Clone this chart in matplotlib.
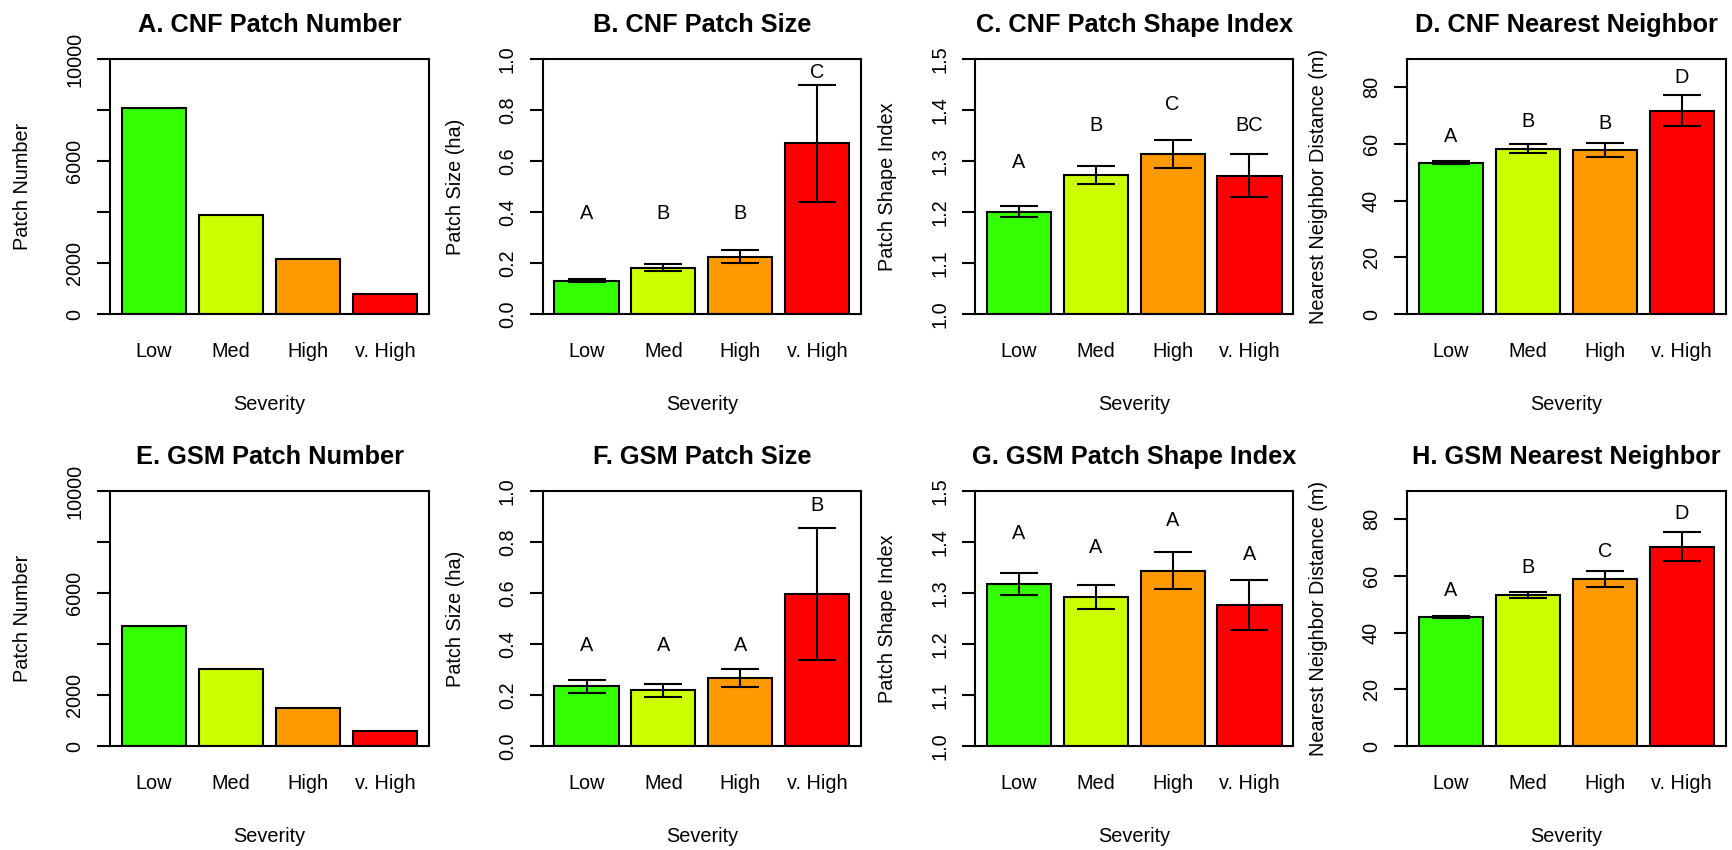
import matplotlib
matplotlib.use("Agg")
import matplotlib.pyplot as plt
import numpy as np

plt.rcParams["font.family"] = ["Liberation Sans", "DejaVu Sans"]

severity = ["Low", "Med", "High", "v. High"]
bar_colors = ["#33FF00", "#CCFF00", "#FF9900", "#FF0000"]

# patch counts (no error bars)
cnf_patch_number = [8090, 3890, 2170, 770]
gsm_patch_number = [4710, 3010, 1480, 575]

# mean patch size (ha) with standard errors and group letters
cnf_patch_size = [0.131, 0.182, 0.225, 0.669]
cnf_patch_size_se = [0.007, 0.015, 0.026, 0.228]
cnf_patch_size_letters = ["A", "B", "B", "C"]
cnf_patch_size_letter_y = [0.394, 0.394, 0.394, 0.946]

gsm_patch_size = [0.235, 0.218, 0.265, 0.595]
gsm_patch_size_se = [0.0255, 0.0255, 0.0355, 0.2585]
gsm_patch_size_letters = ["A", "A", "A", "B"]
gsm_patch_size_letter_y = [0.396, 0.396, 0.396, 0.944]

# patch shape index
cnf_shape = [1.2005, 1.2723, 1.314, 1.271]
cnf_shape_se = [0.0105, 0.018, 0.0275, 0.042]
cnf_shape_letters = ["A", "B", "C", "BC"]
cnf_shape_letter_y = [1.297, 1.370, 1.411, 1.369]

gsm_shape = [1.318, 1.292, 1.344, 1.277]
gsm_shape_se = [0.022, 0.024, 0.037, 0.049]
gsm_shape_letters = ["A", "A", "A", "A"]
gsm_shape_letter_y = [1.416, 1.389, 1.442, 1.375]

# nearest neighbor distance (m)
cnf_nn = [53.35, 58.3, 57.9, 71.8]
cnf_nn_se = [0.55, 1.6, 2.55, 5.4]
cnf_nn_letters = ["A", "B", "B", "D"]
cnf_nn_letter_y = [62.7, 68.1, 67.4, 83.4]

gsm_nn = [45.45, 53.4, 58.9, 70.4]
gsm_nn_se = [0.35, 1.05, 2.7, 5.25]
gsm_nn_letters = ["A", "B", "C", "D"]
gsm_nn_letter_y = [54.8, 62.9, 68.6, 81.9]

number_ticks = [0, 2000, 4000, 6000, 8000, 10000]
number_tick_labels = ["0", "2000", "", "6000", "", "10000"]
size_ticks = [0.0, 0.2, 0.4, 0.6, 0.8, 1.0]
size_tick_labels = ["0.0", "0.2", "0.4", "0.6", "0.8", "1.0"]
shape_ticks = [1.0, 1.1, 1.2, 1.3, 1.4, 1.5]
shape_tick_labels = ["1.0", "1.1", "1.2", "1.3", "1.4", "1.5"]
nn_ticks = [0, 20, 40, 60, 80]
nn_tick_labels = ["0", "20", "40", "60", "80"]

W, H = 1732, 850
col_left = [110, 542.7, 975, 1406.7]
col_right = [429, 861, 1293.3, 1725.7]
row_top = [59, 491]
row_bottom = [314, 746]

bar_x = np.array([0.7, 1.9, 3.1, 4.3])
LW = 1.5
TEXT = 14.3


def draw_panel(fig, row, col, title, ylabel, values, ylim, ticks, tick_labels,
               se=None, letters=None, letter_y=None):
    left = col_left[col] / W
    bottom = 1 - row_bottom[row] / H
    width = (col_right[col] - col_left[col]) / W
    height = (row_bottom[row] - row_top[row]) / H
    ax = fig.add_axes([left, bottom, width, height])

    base = ylim[0]
    heights = np.array(values) - base
    ax.bar(bar_x, heights, width=1.0, bottom=base, color=bar_colors,
           edgecolor="black", linewidth=LW, zorder=2)
    if se is not None:
        ax.errorbar(bar_x, values, yerr=se, fmt="none", ecolor="black",
                    elinewidth=LW, capsize=13.9, capthick=LW, zorder=3)
    if letters is not None:
        for x, y, s in zip(bar_x, letter_y, letters):
            ax.text(x, y, s, ha="center", va="center", fontsize=TEXT)

    ax.set_xlim(0.016, 4.984)
    ax.set_ylim(*ylim)
    ax.set_xticks(bar_x)
    ax.set_xticklabels(severity, fontsize=TEXT)
    ax.tick_params(axis="x", length=0, pad=20)
    ax.set_yticks(ticks)
    ax.set_yticklabels(tick_labels, fontsize=TEXT, rotation=90, va="center")
    ax.tick_params(axis="y", length=9.1, width=LW, pad=9.5)
    for spine in ax.spines.values():
        spine.set_linewidth(LW)

    ax.set_title(title, fontsize=18.3, fontweight="bold", pad=19.6)
    ax.set_xlabel("Severity", fontsize=TEXT, va="center")
    ax.xaxis.set_label_coords(0.5, -0.353)
    ax.set_ylabel(ylabel, fontsize=TEXT, va="center")
    ax.yaxis.set_label_coords(-0.275, 0.5)
    return ax


fig = plt.figure(figsize=(W / 100, H / 100), dpi=100)

draw_panel(fig, 0, 0, "A. CNF Patch Number", "Patch Number", cnf_patch_number,
           (0, 10000), number_ticks, number_tick_labels)
draw_panel(fig, 0, 1, "B. CNF Patch Size", "Patch Size (ha)", cnf_patch_size,
           (0, 1), size_ticks, size_tick_labels,
           cnf_patch_size_se, cnf_patch_size_letters, cnf_patch_size_letter_y)
draw_panel(fig, 0, 2, "C. CNF Patch Shape Index", "Patch Shape Index", cnf_shape,
           (1.0, 1.5), shape_ticks, shape_tick_labels,
           cnf_shape_se, cnf_shape_letters, cnf_shape_letter_y)
draw_panel(fig, 0, 3, "D. CNF Nearest Neighbor", "Nearest Neighbor Distance (m)",
           cnf_nn, (0, 90), nn_ticks, nn_tick_labels,
           cnf_nn_se, cnf_nn_letters, cnf_nn_letter_y)

draw_panel(fig, 1, 0, "E. GSM Patch Number", "Patch Number", gsm_patch_number,
           (0, 10000), number_ticks, number_tick_labels)
draw_panel(fig, 1, 1, "F. GSM Patch Size", "Patch Size (ha)", gsm_patch_size,
           (0, 1), size_ticks, size_tick_labels,
           gsm_patch_size_se, gsm_patch_size_letters, gsm_patch_size_letter_y)
draw_panel(fig, 1, 2, "G. GSM Patch Shape Index", "Patch Shape Index", gsm_shape,
           (1.0, 1.5), shape_ticks, shape_tick_labels,
           gsm_shape_se, gsm_shape_letters, gsm_shape_letter_y)
draw_panel(fig, 1, 3, "H. GSM Nearest Neighbor", "Nearest Neighbor Distance (m)",
           gsm_nn, (0, 90), nn_ticks, nn_tick_labels,
           gsm_nn_se, gsm_nn_letters, gsm_nn_letter_y)

fig.savefig("out.png", dpi=100)
